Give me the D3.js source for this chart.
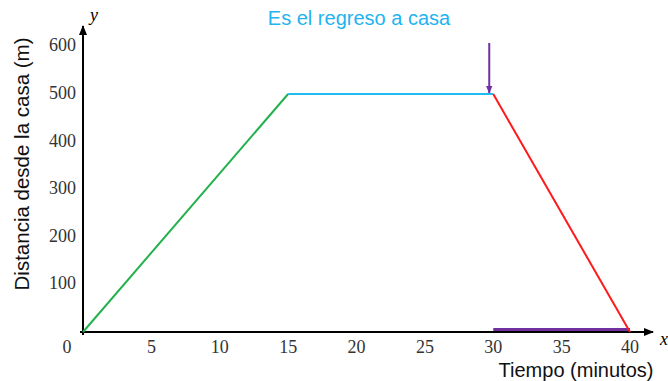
<!DOCTYPE html>
<html>
<head>
<meta charset="utf-8">
<script src="https://cdn.jsdelivr.net/npm/d3@7"></script>
<style>
  body { margin: 0; background: #fff; }
</style>
</head>
<body>
<div id="chart"></div>
<script>
// Trip segments (minutes, metres)
const times = [0, 15, 30, 40];
const distances = [0, 500, 500, 0];
const segColors = ["#22b14c", "#1fbdf0", "#ff1a1a"];
const xTicks = [5, 10, 15, 20, 25, 30, 35, 40];
const yTicks = [100, 200, 300, 400, 500, 600];
const highlight = [30, 40];   // purple span on the time axis

const W = 668, H = 381;
const svg = d3.select("#chart").append("svg")
  .attr("width", W)
  .attr("height", H);

const x = d3.scaleLinear().domain([0, 40]).range([83, 630]);
const y = d3.scaleLinear().domain([0, 500]).range([332, 94]);

const defs = svg.append("defs");
function arrowMarker(id, color, w) {
  defs.append("marker")
    .attr("id", id)
    .attr("viewBox", "0 0 10 10")
    .attr("refX", 9).attr("refY", 5)
    .attr("markerWidth", w).attr("markerHeight", w)
    .attr("orient", "auto")
    .append("path")
    .attr("d", "M0,1 L10,5 L0,9 z")
    .attr("fill", color);
}
arrowMarker("ax", "#000", 5);
arrowMarker("pu", "#7030a0", 4);

// Axes
svg.append("line")
  .attr("x1", x(0) - 3).attr("y1", y(0))
  .attr("x2", 653).attr("y2", y(0))
  .attr("stroke", "#000").attr("stroke-width", 2)
  .attr("marker-end", "url(#ax)");
svg.append("line")
  .attr("x1", x(0)).attr("y1", y(0) + 3)
  .attr("x2", x(0)).attr("y2", 26)
  .attr("stroke", "#000").attr("stroke-width", 2)
  .attr("marker-end", "url(#ax)");

// Tick labels
const tickFont = "'Liberation Serif', 'DejaVu Serif', serif";
svg.append("g").selectAll("text")
  .data(xTicks)
  .join("text")
  .attr("x", d => x(d))
  .attr("y", 353)
  .attr("text-anchor", "middle")
  .style("font-family", tickFont)
  .style("font-size", "18px")
  .style("fill", "#333")
  .text(d => d);

svg.append("text")
  .attr("x", 67).attr("y", 353)
  .attr("text-anchor", "middle")
  .style("font-family", tickFont)
  .style("font-size", "18px")
  .style("fill", "#333")
  .text("0");

svg.append("g").selectAll("text")
  .data(yTicks)
  .join("text")
  .attr("x", 76)
  .attr("y", d => y(d) + 5)
  .attr("text-anchor", "end")
  .style("font-family", tickFont)
  .style("font-size", "18px")
  .style("fill", "#333")
  .text(d => d);

// axis letters
svg.append("text")
  .attr("x", 90).attr("y", 21)
  .style("font-family", tickFont)
  .style("font-style", "italic")
  .style("font-size", "18px")
  .text("y");
svg.append("text")
  .attr("x", 660).attr("y", 345)
  .style("font-family", tickFont)
  .style("font-style", "italic")
  .style("font-size", "18px")
  .text("x");

// Purple span on the x axis
svg.append("line")
  .attr("x1", x(highlight[0])).attr("y1", y(0) - 2.5)
  .attr("x2", x(highlight[1])).attr("y2", y(0) - 2.5)
  .attr("stroke", "#7030a0").attr("stroke-width", 3);

// Segments
d3.range(times.length - 1).forEach(i => {
  svg.append("line")
    .attr("x1", x(times[i])).attr("y1", y(distances[i]))
    .attr("x2", x(times[i + 1])).attr("y2", y(distances[i + 1]))
    .attr("stroke", segColors[i])
    .attr("stroke-width", 2);
});

// Purple arrow pointing at the start of the return
svg.append("line")
  .attr("x1", x(30) - 4).attr("y1", 43)
  .attr("x2", x(30) - 4).attr("y2", y(500) - 1)
  .attr("stroke", "#7030a0").attr("stroke-width", 2)
  .attr("marker-end", "url(#pu)");

// Titles
const sans = "'Liberation Sans', Arial, sans-serif";
svg.append("text")
  .attr("x", 359).attr("y", 25)
  .attr("text-anchor", "middle")
  .style("font-family", sans)
  .style("font-size", "20px")
  .style("fill", "#1fb4f0")
  .text("Es el regreso a casa");

svg.append("text")
  .attr("transform", "translate(29,164) rotate(-90)")
  .attr("text-anchor", "middle")
  .style("font-family", sans)
  .style("font-size", "20.5px")
  .style("fill", "#111")
  .text("Distancia desde la casa (m)");

svg.append("text")
  .attr("x", 576).attr("y", 377)
  .attr("text-anchor", "middle")
  .style("font-family", sans)
  .style("font-size", "20px")
  .style("fill", "#111")
  .text("Tiempo (minutos)");
</script>
</body>
</html>
